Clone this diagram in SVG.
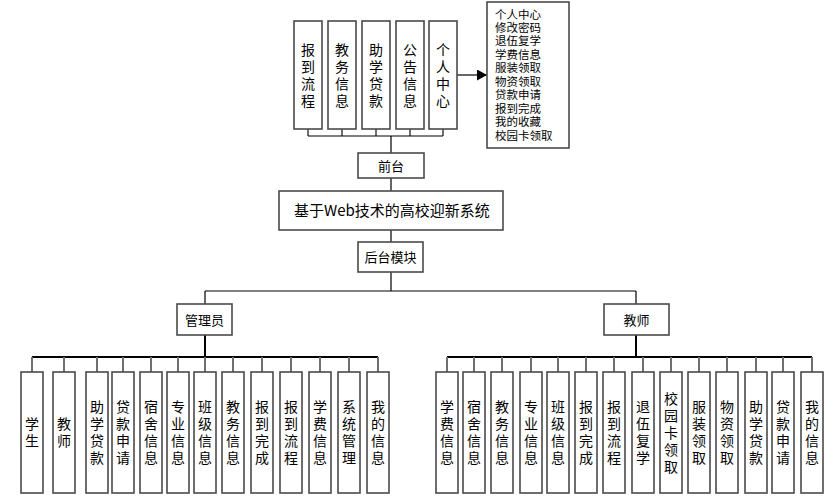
<svg xmlns="http://www.w3.org/2000/svg" width="835" height="504" viewBox="0 0 835 504">
<defs>
<style>
.box{fill:#fff;stroke:#4a4a4a;stroke-width:1.6}
.t{font-family:"Noto Sans CJK SC","Liberation Sans",sans-serif;font-size:14px;fill:#000;text-anchor:middle}
.s{font-family:"Noto Sans CJK SC","Liberation Sans",sans-serif;font-size:11.5px;fill:#000}
.c{fill:none;stroke:#000;stroke-width:1.2}
.st{fill:none;stroke:#707070;stroke-width:2}
.bus{fill:none;stroke:#000;stroke-width:2}
</style>
<marker id="ah" markerWidth="10" markerHeight="11" refX="10" refY="5.5" orient="auto" markerUnits="userSpaceOnUse">
<path d="M0,0 L10,5.5 L0,11 Z" fill="#000"/>
</marker>
</defs>
<rect width="835" height="504" fill="#fff"/>

<g id="connectors">
<path class="st" d="M308,129V136M342,129V136M376,129V136M410,129V136M443,129V136"/>
<path class="c" d="M308,136H443M391,136V153M391,178V191M391,230V242M391,272V291M205,291H636M205,291V304M636,291V304"/>
<path class="bus" d="M205,335V357M636,335V357M32,357H378M447,357H812"/>
<path class="st" d="M32,357V372M64,357V372M97,357V372M123,357V372M151,357V372M178,357V372M205,357V372M233,357V372M262,357V372M291,357V372M320,357V372M349,357V372M378,357V372"/>
<path class="st" d="M447,357V372M474,357V372M502,357V372M531,357V372M558,357V372M586,357V372M614,357V372M643,357V372M671,357V372M699,357V372M727,357V372M756,357V372M783,357V372M812,357V372"/>
<path class="c" d="M457,75H487" marker-end="url(#ah)"/>
</g>

<g id="top-baodao"><rect class="box" x="294" y="21" width="28" height="108"/><text class="t"><tspan x="308" y="55">报</tspan><tspan x="308" y="72">到</tspan><tspan x="308" y="89">流</tspan><tspan x="308" y="106">程</tspan></text></g>
<g id="top-jiaowu"><rect class="box" x="328" y="21" width="28" height="108"/><text class="t"><tspan x="342" y="55">教</tspan><tspan x="342" y="72">务</tspan><tspan x="342" y="89">信</tspan><tspan x="342" y="106">息</tspan></text></g>
<g id="top-zhuxue"><rect class="box" x="362" y="21" width="28" height="108"/><text class="t"><tspan x="376" y="55">助</tspan><tspan x="376" y="72">学</tspan><tspan x="376" y="89">贷</tspan><tspan x="376" y="106">款</tspan></text></g>
<g id="top-gonggao"><rect class="box" x="396" y="21" width="28" height="108"/><text class="t"><tspan x="410" y="55">公</tspan><tspan x="410" y="72">告</tspan><tspan x="410" y="89">信</tspan><tspan x="410" y="106">息</tspan></text></g>
<g id="top-geren"><rect class="box" x="429" y="21" width="28" height="108"/><text class="t"><tspan x="443" y="55">个</tspan><tspan x="443" y="72">人</tspan><tspan x="443" y="89">中</tspan><tspan x="443" y="106">心</tspan></text></g>

<g id="geren-list"><rect class="box" x="487" y="2" width="82" height="146"/>
<text class="s"><tspan x="495" y="18.5">个人中心</tspan><tspan x="495" y="32">修改密码</tspan><tspan x="495" y="45.4">退伍复学</tspan><tspan x="495" y="58.8">学费信息</tspan><tspan x="495" y="72.3">服装领取</tspan><tspan x="495" y="85.7">物资领取</tspan><tspan x="495" y="99.1">贷款申请</tspan><tspan x="495" y="112.6">报到完成</tspan><tspan x="495" y="126">我的收藏</tspan><tspan x="495" y="139.5">校园卡领取</tspan></text></g>

<g id="qiantai"><rect class="box" x="358" y="153" width="66" height="25"/><text class="t" x="391" y="170.5" style="font-size:13px">前台</text></g>
<g id="title"><rect class="box" x="279" y="191" width="224" height="39"/><text class="t" x="392" y="215.5" style="font-size:15px">基于Web技术的高校迎新系统</text></g>
<g id="houtai"><rect class="box" x="358" y="242" width="65" height="30"/><text class="t" x="390.5" y="262" style="font-size:13px">后台模块</text></g>
<g id="guanliyuan"><rect class="box" x="177" y="304" width="55" height="31"/><text class="t" x="204.5" y="324.5" style="font-size:13px">管理员</text></g>
<g id="jiaoshi"><rect class="box" x="604" y="304" width="65" height="31"/><text class="t" x="636.5" y="324.5" style="font-size:13px">教师</text></g>

<g id="m-xuesheng"><rect class="box" x="21" y="372" width="22" height="121"/><text class="t"><tspan x="32" y="429">学</tspan><tspan x="32" y="446">生</tspan></text></g>
<g id="m-jiaoshi"><rect class="box" x="53" y="372" width="22" height="121"/><text class="t"><tspan x="64" y="429">教</tspan><tspan x="64" y="446">师</tspan></text></g>
<g id="m-zhuxue"><rect class="box" x="86" y="372" width="22" height="121"/><text class="t"><tspan x="97" y="412">助</tspan><tspan x="97" y="429">学</tspan><tspan x="97" y="446">贷</tspan><tspan x="97" y="463">款</tspan></text></g>
<g id="m-daikuan"><rect class="box" x="112" y="372" width="22" height="121"/><text class="t"><tspan x="123" y="412">贷</tspan><tspan x="123" y="429">款</tspan><tspan x="123" y="446">申</tspan><tspan x="123" y="463">请</tspan></text></g>
<g id="m-sushe"><rect class="box" x="140" y="372" width="22" height="121"/><text class="t"><tspan x="151" y="412">宿</tspan><tspan x="151" y="429">舍</tspan><tspan x="151" y="446">信</tspan><tspan x="151" y="463">息</tspan></text></g>
<g id="m-zhuanye"><rect class="box" x="167" y="372" width="22" height="121"/><text class="t"><tspan x="178" y="412">专</tspan><tspan x="178" y="429">业</tspan><tspan x="178" y="446">信</tspan><tspan x="178" y="463">息</tspan></text></g>
<g id="m-banji"><rect class="box" x="194" y="372" width="22" height="121"/><text class="t"><tspan x="205" y="412">班</tspan><tspan x="205" y="429">级</tspan><tspan x="205" y="446">信</tspan><tspan x="205" y="463">息</tspan></text></g>
<g id="m-jiaowu"><rect class="box" x="222" y="372" width="22" height="121"/><text class="t"><tspan x="233" y="412">教</tspan><tspan x="233" y="429">务</tspan><tspan x="233" y="446">信</tspan><tspan x="233" y="463">息</tspan></text></g>
<g id="m-wancheng"><rect class="box" x="251" y="372" width="22" height="121"/><text class="t"><tspan x="262" y="412">报</tspan><tspan x="262" y="429">到</tspan><tspan x="262" y="446">完</tspan><tspan x="262" y="463">成</tspan></text></g>
<g id="m-liucheng"><rect class="box" x="280" y="372" width="22" height="121"/><text class="t"><tspan x="291" y="412">报</tspan><tspan x="291" y="429">到</tspan><tspan x="291" y="446">流</tspan><tspan x="291" y="463">程</tspan></text></g>
<g id="m-xuefei"><rect class="box" x="309" y="372" width="22" height="121"/><text class="t"><tspan x="320" y="412">学</tspan><tspan x="320" y="429">费</tspan><tspan x="320" y="446">信</tspan><tspan x="320" y="463">息</tspan></text></g>
<g id="m-xitong"><rect class="box" x="338" y="372" width="22" height="121"/><text class="t"><tspan x="349" y="412">系</tspan><tspan x="349" y="429">统</tspan><tspan x="349" y="446">管</tspan><tspan x="349" y="463">理</tspan></text></g>
<g id="m-wode"><rect class="box" x="367" y="372" width="22" height="121"/><text class="t"><tspan x="378" y="412">我</tspan><tspan x="378" y="429">的</tspan><tspan x="378" y="446">信</tspan><tspan x="378" y="463">息</tspan></text></g>

<g id="t-xuefei"><rect class="box" x="436" y="372" width="22" height="121"/><text class="t"><tspan x="447" y="412">学</tspan><tspan x="447" y="429">费</tspan><tspan x="447" y="446">信</tspan><tspan x="447" y="463">息</tspan></text></g>
<g id="t-sushe"><rect class="box" x="463" y="372" width="22" height="121"/><text class="t"><tspan x="474" y="412">宿</tspan><tspan x="474" y="429">舍</tspan><tspan x="474" y="446">信</tspan><tspan x="474" y="463">息</tspan></text></g>
<g id="t-jiaowu"><rect class="box" x="491" y="372" width="22" height="121"/><text class="t"><tspan x="502" y="412">教</tspan><tspan x="502" y="429">务</tspan><tspan x="502" y="446">信</tspan><tspan x="502" y="463">息</tspan></text></g>
<g id="t-zhuanye"><rect class="box" x="520" y="372" width="22" height="121"/><text class="t"><tspan x="531" y="412">专</tspan><tspan x="531" y="429">业</tspan><tspan x="531" y="446">信</tspan><tspan x="531" y="463">息</tspan></text></g>
<g id="t-banji"><rect class="box" x="547" y="372" width="22" height="121"/><text class="t"><tspan x="558" y="412">班</tspan><tspan x="558" y="429">级</tspan><tspan x="558" y="446">信</tspan><tspan x="558" y="463">息</tspan></text></g>
<g id="t-wancheng"><rect class="box" x="575" y="372" width="22" height="121"/><text class="t"><tspan x="586" y="412">报</tspan><tspan x="586" y="429">到</tspan><tspan x="586" y="446">完</tspan><tspan x="586" y="463">成</tspan></text></g>
<g id="t-liucheng"><rect class="box" x="603" y="372" width="22" height="121"/><text class="t"><tspan x="614" y="412">报</tspan><tspan x="614" y="429">到</tspan><tspan x="614" y="446">流</tspan><tspan x="614" y="463">程</tspan></text></g>
<g id="t-tuiwu"><rect class="box" x="632" y="372" width="22" height="121"/><text class="t"><tspan x="643" y="412">退</tspan><tspan x="643" y="429">伍</tspan><tspan x="643" y="446">复</tspan><tspan x="643" y="463">学</tspan></text></g>
<g id="t-xiaoyuanka"><rect class="box" x="660" y="372" width="22" height="121"/><text class="t"><tspan x="671" y="404">校</tspan><tspan x="671" y="421">园</tspan><tspan x="671" y="438">卡</tspan><tspan x="671" y="455">领</tspan><tspan x="671" y="472">取</tspan></text></g>
<g id="t-fuzhuang"><rect class="box" x="688" y="372" width="22" height="121"/><text class="t"><tspan x="699" y="412">服</tspan><tspan x="699" y="429">装</tspan><tspan x="699" y="446">领</tspan><tspan x="699" y="463">取</tspan></text></g>
<g id="t-wuzi"><rect class="box" x="716" y="372" width="22" height="121"/><text class="t"><tspan x="727" y="412">物</tspan><tspan x="727" y="429">资</tspan><tspan x="727" y="446">领</tspan><tspan x="727" y="463">取</tspan></text></g>
<g id="t-zhuxue"><rect class="box" x="745" y="372" width="22" height="121"/><text class="t"><tspan x="756" y="412">助</tspan><tspan x="756" y="429">学</tspan><tspan x="756" y="446">贷</tspan><tspan x="756" y="463">款</tspan></text></g>
<g id="t-daikuan"><rect class="box" x="772" y="372" width="22" height="121"/><text class="t"><tspan x="783" y="412">贷</tspan><tspan x="783" y="429">款</tspan><tspan x="783" y="446">申</tspan><tspan x="783" y="463">请</tspan></text></g>
<g id="t-wode"><rect class="box" x="801" y="372" width="22" height="121"/><text class="t"><tspan x="812" y="412">我</tspan><tspan x="812" y="429">的</tspan><tspan x="812" y="446">信</tspan><tspan x="812" y="463">息</tspan></text></g>
</svg>
